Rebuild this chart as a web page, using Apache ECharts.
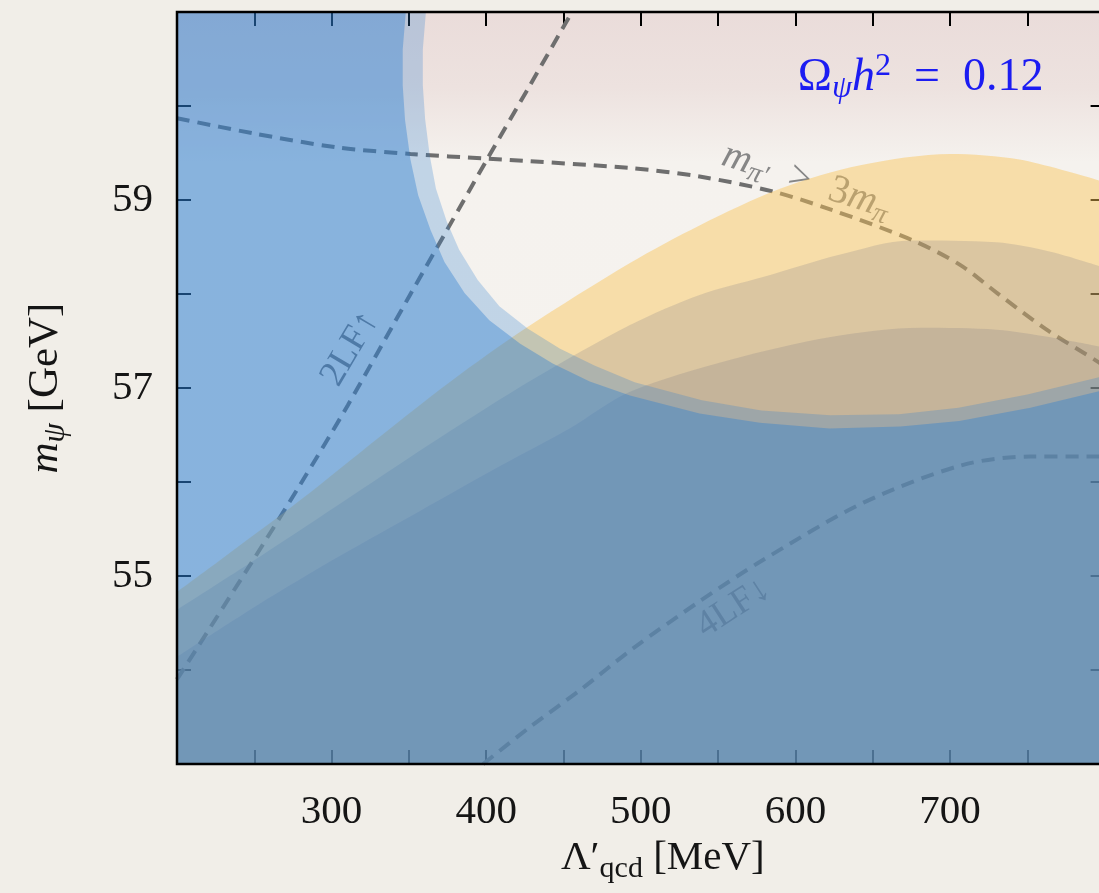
<!DOCTYPE html>
<html>
<head>
<meta charset="utf-8">
<script src="https://cdn.jsdelivr.net/npm/echarts@6/dist/echarts.min.js"></script>
<style>
  html, body { margin: 0; padding: 0; background: #f1eee8; }
  #chart { width: 1099px; height: 893px; }
</style>
</head>
<body>
<div id="chart"></div>
<script>
// Axis ranges: Λ'_qcd in MeV, m_ψ in GeV
const lamMin = 200, lamMax = 800, mMin = 53, mMax = 61;
const xTickLabels = [300, 400, 500, 600, 700];
const yTickLabels = [55, 57, 59];

// Ω_ψ h² = 0.12 contour: outer edge of the soft rim
const outerLam = [348, 346, 346, 347.5, 351, 356, 364, 373, 386, 402, 422, 443, 467, 493, 538, 577, 622, 668, 706, 752, 800];
const outerM   = [61, 60.6, 60.22, 59.85, 59.43, 59.05, 58.68, 58.34, 58.01, 57.72, 57.47, 57.26, 57.07, 56.92, 56.73, 56.63, 56.57, 56.59, 56.65, 56.79, 56.98];
// inner edge of the rim
const innerLam = [361, 359, 359, 360.5, 363.5, 367.5, 374.5, 382.5, 394.5, 408.5, 427, 447.5, 470, 496, 539.5, 578, 622.5, 667, 705.5, 750, 800];
const innerM   = [61, 60.6, 60.22, 59.86, 59.47, 59.12, 58.77, 58.47, 58.15, 57.87, 57.63, 57.42, 57.24, 57.06, 56.87, 56.76, 56.71, 56.72, 56.79, 56.93, 57.13];

// shaded bands (upper edges; each fills down to the axis)
const band1Lam = [200, 228, 280, 331, 377, 426, 493, 538, 590, 642, 700, 745, 800];
const band1M   = [54.83, 55.17, 55.81, 56.48, 57.07, 57.64, 58.33, 58.73, 59.12, 59.37, 59.49, 59.43, 59.19];
const band2Lam = [200, 254, 312, 370, 430, 493, 538, 579, 629, 674, 730, 765, 800];
const band2M   = [54.64, 55.21, 55.84, 56.47, 57.09, 57.67, 57.99, 58.18, 58.42, 58.57, 58.55, 58.45, 58.28];
const band3Lam = [200, 252, 305, 357, 409, 454, 493, 558, 622, 681, 730, 765, 800];
const band3M   = [54.14, 54.69, 55.21, 55.69, 56.17, 56.57, 56.96, 57.30, 57.54, 57.64, 57.62, 57.54, 57.43];

// dashed guide curves
const twoLFLam = [200, 248.5, 279.6, 310.6, 350.7, 374.6, 400.5, 428.3, 455.5];
const twoLFM   = [53.90, 55.15, 55.97, 56.82, 57.99, 58.68, 59.43, 60.22, 61.0];
const fourLFLam = [398, 428, 461, 495, 538, 579, 644, 708, 752, 800];
const fourLFM   = [53.0, 53.39, 53.79, 54.23, 54.73, 55.17, 55.78, 56.18, 56.27, 56.27];
const mpiLam = [200, 249, 303.5, 351, 400.5, 493, 538, 585.5, 622.5, 676, 706.5, 730.5, 762.5, 796.5, 800];
const mpiM   = [59.87, 59.71, 59.56, 59.49, 59.44, 59.34, 59.25, 59.09, 58.90, 58.57, 58.31, 58.01, 57.62, 57.27, 57.22];

const pairs = (xs, ys) => xs.map((x, i) => [x, ys[i]]);

const SERIF = '"Liberation Serif", "DejaVu Serif", serif';
const GUIDE = '#6e6e6e';

// text annotations placed in data coordinates
const notes = [
  { text: '{i|m}{s|π′}{n|\u2002>\u20023}{i|m}{s|π}', at: [607, 59.2], rot: -18, color: '#868686', size: 40 },
  { text: '{n|2LF↑}', at: [312, 57.42], rot: 59.5, color: '#767676', size: 37 },
  { text: '{n|4LF↓}', at: [560, 54.66], rot: 33, color: '#767676', size: 37 },
];
const relicNote = { text: '{n|Ω}{s|ψ}{i|h}{p|2}{n|\u2002=\u20020.12}', at: [681, 60.3], color: '#1c1cf2', size: 46 };

function richFor(size, color) {
  return {
    n: { fontFamily: SERIF, fontSize: size, fill: color },
    i: { fontFamily: SERIF, fontSize: size, fontStyle: 'italic', fill: color },
    s: { fontFamily: SERIF, fontSize: size * 0.7, fontStyle: 'italic', fill: color, padding: [size * 0.45, 0, 0, 0] },
    p: { fontFamily: SERIF, fontSize: size * 0.7, fill: color, padding: [0, 0, size * 0.5, 0] },
  };
}

function textItem(note, api) {
  const p = api.coord(note.at);
  return {
    type: 'text',
    x: p[0], y: p[1],
    rotation: (note.rot || 0) * Math.PI / 180,
    style: {
      text: note.text,
      align: 'center',
      verticalAlign: 'middle',
      fontFamily: SERIF,
      fontSize: note.size,
      fill: note.color,
      rich: richFor(note.size, note.color),
    },
  };
}

// region of the plot lying outside a contour edge
function outsidePolygon(api, lams, ms) {
  const pts = [api.coord([lamMin, mMax])];
  for (let i = 0; i < lams.length; i++) pts.push(api.coord([lams[i], ms[i]]));
  pts.push(api.coord([lamMax, mMin]));
  pts.push(api.coord([lamMin, mMin]));
  return pts;
}

const BLUE = '47,127,208';

const chart = echarts.init(document.getElementById('chart'), null, { renderer: 'canvas' });

const tickStyle = { inside: true, length: 14, lineStyle: { color: '#000', width: 2 } };
const xCommon = {
  type: 'value', min: lamMin, max: lamMax, interval: 50, z: 1,
  axisLine: { show: false }, splitLine: { show: false }, axisTick: tickStyle,
};
const yCommon = {
  type: 'value', min: mMin, max: mMax, interval: 1, z: 1,
  axisLine: { show: false }, splitLine: { show: false }, axisTick: tickStyle,
};

const guideLine = (name, xs, ys) => ({
  name, type: 'line', z: 2, data: pairs(xs, ys), smooth: 0.3, showSymbol: false, symbol: 'none',
  lineStyle: { color: GUIDE, width: 4, type: [13, 8] }, silent: true,
});
const band = (name, xs, ys, color) => ({
  name, type: 'line', z: 3, data: pairs(xs, ys), smooth: 0.3, showSymbol: false, symbol: 'none',
  lineStyle: { width: 0, opacity: 0 }, areaStyle: { color, origin: 'start', opacity: 1 }, silent: true,
});

chart.setOption({
  animation: false,
  backgroundColor: '#f1eee8',
  grid: {
    left: 177, top: 12, width: 927.6, height: 752,
    containLabel: false, outerBoundsMode: 'none',
    show: true, backgroundColor: 'transparent', borderColor: '#000', borderWidth: 2.5, z: 10,
  },
  xAxis: [
    Object.assign({}, xCommon, {
      position: 'bottom',
      axisLabel: {
        margin: 28, fontFamily: SERIF, fontSize: 41, color: '#151515',
        formatter: v => (xTickLabels.indexOf(v) >= 0 ? String(v) : ''),
      },
      name: "{n|Λ′}{s|qcd} {n|[MeV]}",
      nameLocation: 'middle', nameGap: 62,
      nameTextStyle: {
        fontFamily: SERIF, fontSize: 41, color: '#151515', padding: [0, 0, 0, 44],
        rich: {
          n: { fontFamily: SERIF, fontSize: 41, color: '#151515' },
          s: { fontFamily: SERIF, fontSize: 30, color: '#151515', padding: [22, 0, 0, 0] },
        },
      },
    }),
    Object.assign({}, xCommon, { position: 'top', axisLabel: { show: false } }),
  ],
  yAxis: [
    Object.assign({}, yCommon, {
      position: 'left',
      axisLabel: {
        margin: 24, fontFamily: SERIF, fontSize: 41, color: '#151515',
        formatter: v => (yTickLabels.indexOf(v) >= 0 ? String(v) : ''),
      },
      name: '{i|m}{s|ψ} {n|[GeV]}',
      nameLocation: 'middle', nameGap: 106,
      nameTextStyle: {
        fontFamily: SERIF, fontSize: 43, color: '#151515',
        rich: {
          n: { fontFamily: SERIF, fontSize: 43, color: '#151515' },
          i: { fontFamily: SERIF, fontSize: 43, fontStyle: 'italic', color: '#151515' },
          s: { fontFamily: SERIF, fontSize: 31, fontStyle: 'italic', color: '#151515', padding: [20, 0, 0, 0] },
        },
      },
    }),
    Object.assign({}, yCommon, { position: 'right', axisLabel: { show: false } }),
  ],
  series: [
    {
      // plot base: faint rose at the top fading to paper white
      name: 'base', type: 'custom', z: 0, silent: true, clip: true, data: [0],
      renderItem: (params, api) => {
        const a = api.coord([lamMin, mMax]);
        const b = api.coord([lamMax, mMin]);
        return {
          type: 'rect',
          shape: { x: a[0], y: a[1], width: b[0] - a[0], height: b[1] - a[1] },
          style: {
            fill: new echarts.graphic.LinearGradient(0, 0, 0, 1, [
              { offset: 0, color: '#eadcda' },
              { offset: 0.1, color: '#ede2df' },
              { offset: 0.2, color: '#f5f2ee' },
              { offset: 1, color: '#f5f3ef' },
            ]),
          },
        };
      },
    },
    guideLine('mpi', mpiLam, mpiM),
    guideLine('2LF', twoLFLam, twoLFM),
    guideLine('4LF', fourLFLam, fourLFM),
    {
      name: 'notes', type: 'custom', z: 2, silent: true, clip: true,
      data: notes.map((n, i) => [n.at[0], n.at[1], i]),
      renderItem: (params, api) => textItem(notes[api.value(2)], api),
    },
    band('band1', band1Lam, band1M, 'rgba(250,195,85,0.45)'),
    band('band2', band2Lam, band2M, 'rgba(110,110,130,0.2)'),
    band('band3', band3Lam, band3M, 'rgba(110,110,130,0.2)'),
    {
      name: 'excludedOuter', type: 'custom', z: 4, silent: true, clip: true, data: [0],
      renderItem: (params, api) => ({
        type: 'polygon',
        shape: { points: outsidePolygon(api, outerLam, outerM) },
        style: { fill: 'rgba(' + BLUE + ',0.39)' },
      }),
    },
    {
      name: 'excludedInner', type: 'custom', z: 4, silent: true, clip: true, data: [0],
      renderItem: (params, api) => ({
        type: 'polygon',
        shape: { points: outsidePolygon(api, innerLam, innerM) },
        style: { fill: 'rgba(' + BLUE + ',0.26)' },
      }),
    },
    {
      name: 'relic', type: 'custom', z: 6, silent: true, clip: false,
      data: [[relicNote.at[0], relicNote.at[1]]],
      renderItem: (params, api) => textItem(relicNote, api),
    },
  ],
});
</script>
</body>
</html>
